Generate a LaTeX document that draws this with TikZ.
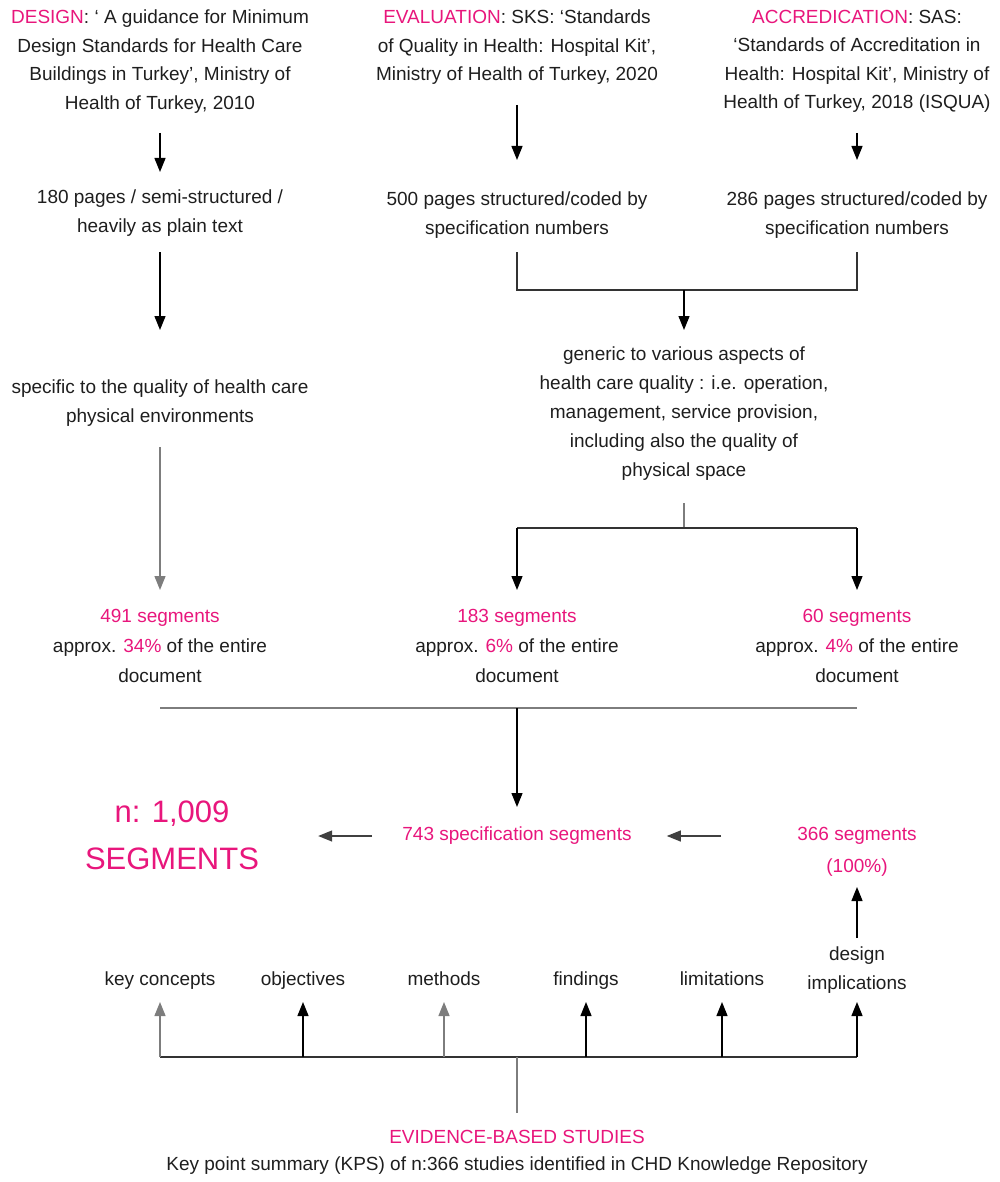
\documentclass[tikz,border=0pt]{standalone}
\usepackage{fontspec}
\setmainfont{Liberation Sans}
\usetikzlibrary{arrows.meta}
\definecolor{hot}{RGB}{232,22,124}
\definecolor{ink}{RGB}{30,30,30}
\definecolor{rule}{RGB}{125,125,125}
\begin{document}
\begin{tikzpicture}[x=1pt,y=-1pt,
  txt/.style={anchor=north,align=center,inner sep=0pt,text=ink,
    font=\fontsize{19}{28.5}\selectfont},
  txtb/.style={txt,font=\fontsize{19}{30}\selectfont},
  lbl/.style={txt,font=\fontsize{19}{29}\selectfont},
  big/.style={anchor=north,align=center,inner sep=0pt,text=hot,
    font=\fontsize{31}{47}\selectfont},
  arr/.style={line width=1.3pt,draw=black,-{Triangle[length=14pt,width=11pt]}},
  garr/.style={arr,draw=rule},
  ln/.style={line width=1.3pt,draw=rule},
  kln/.style={line width=1.3pt,draw=black!80}]
\useasboundingbox (0,0) rectangle (1000,1182);

% ---- source documents
\node[txt] (des) at (160,10) {\textcolor{hot}{DESIGN}: ‘ A guidance for Minimum\\Design Standards for Health Care\\Buildings in Turkey’, Ministry of\\Health of Turkey, 2010};
\node[txt] (eva) at (517,10) {\textcolor{hot}{EVALUATION}: SKS: ‘Standards\\of Quality in Health: Hospital Kit’,\\Ministry of Health of Turkey, 2020};
\node[txt] (acc) at (857,10) {\textcolor{hot}{ACCREDICATION}: SAS:\\‘Standards of Accreditation in\\Health: Hospital Kit’, Ministry of\\Health of Turkey, 2018 (ISQUA)};

% ---- document structure
\node[txt] (pd) at (160,190) {180 pages / semi-structured /\\heavily as plain text};
\node[txt] (pe) at (517,192) {500 pages structured/coded by\\specification numbers};
\node[txt] (pa) at (857,192) {286 pages structured/coded by\\specification numbers};

% ---- scope
\node[txt] (spec) at (160,380) {specific to the quality of health care\\physical environments};
\node[lbl] (gen) at (684,347) {generic to various aspects of\\health care quality : i.e. operation,\\management, service provision,\\including also the quality of\\physical space};

% ---- segment counts
\node[txtb] (sd) at (160,609) {\textcolor{hot}{491 segments}\\approx. \textcolor{hot}{34\%} of the entire\\document};
\node[txtb] (se) at (517,609) {\textcolor{hot}{183 segments}\\approx. \textcolor{hot}{6\%} of the entire\\document};
\node[txtb] (sa) at (857,609) {\textcolor{hot}{60 segments}\\approx. \textcolor{hot}{4\%} of the entire\\document};

% ---- totals
\node[big] (tot) at (172,801) {n: 1,009\\SEGMENTS};
\node[txt,text=hot] (spc) at (517,827) {743 specification segments};
\node[txt,text=hot,font=\fontsize{19}{32}\selectfont] (ev) at (857,827) {366 segments\\(100\%)};

% ---- key point summary categories
\node[lbl] (di) at (857,947) {design\\implications};
\node[txt] (kc) at (160,972) {key concepts};
\node[txt] (ob) at (303,972) {objectives};
\node[txt] (me) at (444,972) {methods};
\node[txt] (fi) at (586,972) {findings};
\node[txt] (li) at (722,972) {limitations};

\node[txt,text=hot] (ebs) at (517,1130) {EVIDENCE-BASED STUDIES};
\node[txt] (kps) at (517,1157) {Key point summary (KPS) of n:366 studies identified in CHD Knowledge Repository};

% ---- connectors: sources to structure
\draw[arr] (des.south |- 0,133) -- (pd.north |- 0,172);
\draw[arr] (eva.south |- 0,105) -- (pe.north |- 0,160);
\draw[arr] (acc.south |- 0,133) -- (pa.north |- 0,160);

% ---- structure to scope
\draw[arr] (pd.south |- 0,252) -- (spec.north |- 0,330);
\coordinate (jb) at (684,290);
\draw[kln] (pe.south |- 0,252) -- (pe.south |- jb) -- (pa.south |- jb) -- (pa.south |- 0,252);
\draw[arr] (jb) -- (gen.north |- 0,330);

% ---- scope to counts
\draw[garr] (spec.south |- 0,447) -- (sd.north |- 0,590);
\coordinate (jg) at (684,528);
\draw[ln] (gen.south |- 0,503) -- (jg);
\draw[kln] (se.north |- jg) -- (sa.north |- jg);
\draw[arr] (se.north |- jg) -- (se.north |- 0,590);
\draw[arr] (sa.north |- jg) -- (sa.north |- 0,590);

% ---- counts merged into specification segments
\coordinate (jm) at (517,708);
\draw[ln] (sd.south |- jm) -- (sa.south |- jm);
\draw[arr] (jm) -- (spc.north |- 0,807);

% ---- totals
\draw[arr,draw=black!75] ([xshift=-30pt]spc.west |- 0,836) -- ([xshift=59pt]tot.east |- 0,836);
\draw[arr,draw=black!75] ([xshift=-76pt]ev.west |- 0,836) -- ([xshift=35pt]spc.east |- 0,836);
\draw[arr] (di.north |- 0,938) -- (ev.south |- 0,887);

% ---- evidence-based studies to categories
\coordinate (jk) at (517,1057);
\draw[kln] (kc.south |- jk) -- (di.south |- jk);
\draw[ln] (jk) -- (ebs.north |- 0,1113);
\draw[garr] (kc.south |- jk) -- (kc.south |- 0,1002);
\draw[arr] (ob.south |- jk) -- (ob.south |- 0,1002);
\draw[garr] (me.south |- jk) -- (me.south |- 0,1002);
\draw[arr] (fi.south |- jk) -- (fi.south |- 0,1002);
\draw[arr] (li.south |- jk) -- (li.south |- 0,1002);
\draw[arr] (di.south |- jk) -- (di.south |- 0,1002);
\end{tikzpicture}
\end{document}
